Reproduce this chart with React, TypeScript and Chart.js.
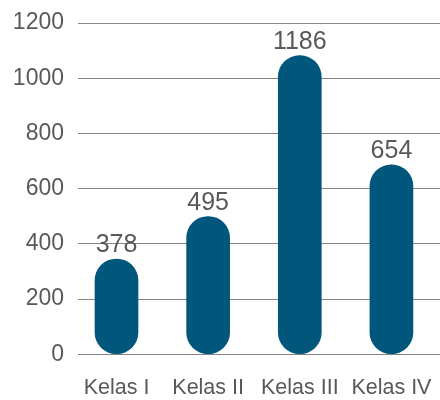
import React, { useEffect, useRef } from "react";
import { Chart, registerables } from "chart.js";

Chart.register(...registerables);

const categories = ["Kelas I", "Kelas II", "Kelas III", "Kelas IV"];
// bar heights as drawn in the picture
const values = [345, 499, 1082, 686];
// value labels printed above the bars
const valueLabels = ["378", "495", "1186", "654"];
const yTicks = [0, 200, 400, 600, 800, 1000, 1200];

const FONT = "'Liberation Sans', Arial, Helvetica, sans-serif";
const TEXT = "#595959";
const BAR = "#01577b";

const labelPlugin = {
  id: "valueLabels",
  afterDatasetsDraw(chart: any) {
    const ctx = chart.ctx;
    const meta = chart.getDatasetMeta(0);
    ctx.save();
    ctx.font = `25px ${FONT}`;
    ctx.fillStyle = TEXT;
    ctx.textAlign = "center";
    ctx.textBaseline = "alphabetic";
    meta.data.forEach((bar: any, i: number) => {
      ctx.fillText(valueLabels[i], bar.x, bar.y - 7);
    });
    ctx.restore();
  },
};

export default function App() {
  const ref = useRef<HTMLCanvasElement>(null);
  useEffect(() => {
    document.body.style.margin = "0";
    const chart = new Chart(ref.current!, {
      type: "bar",
      data: {
        datasets: [
          {
            data: categories.map((c, i) => ({ x: i, y: values[i] })),
            backgroundColor: BAR,
            barThickness: 43,
            borderRadius: 22,
            borderSkipped: false,
          },
        ],
      },
      options: {
        animation: false,
        responsive: false,
        devicePixelRatio: 1,
        layout: { padding: { top: 23, right: 0, left: 0, bottom: 0 } },
        plugins: { legend: { display: false }, tooltip: { enabled: false } },
        scales: {
          x: {
            type: "linear",
            min: -0.42,
            max: 3.53,
            offset: false,
            grid: { display: false, drawTicks: false },
            border: { display: false },
            afterFit: (s: any) => {
              s.height = 45.7;
              s.paddingLeft = 0;
              s.paddingRight = 0;
            },
            ticks: {
              stepSize: 1,
              includeBounds: false,
              autoSkip: false,
              maxRotation: 0,
              padding: 21,
              color: TEXT,
              font: { family: FONT, size: 21.5 },
              callback: (v: any) => categories[v as number] ?? "",
            },
          },
          y: {
            min: 0,
            max: 1200,
            afterFit: (s: any) => {
              s.width = 78;
              s.paddingTop = 0;
              s.paddingBottom = 0;
            },
            afterBuildTicks: (s: any) => {
              s.ticks = yTicks.map((v) => ({ value: v }));
            },
            grid: { color: "#858585", lineWidth: 1, drawTicks: false },
            border: { display: false },
            ticks: {
              padding: 14,
              color: TEXT,
              font: { family: FONT, size: 23 },
              callback: (v: any) => String(v),
            },
          },
        },
      },
      plugins: [labelPlugin],
    } as any);
    return () => chart.destroy();
  }, []);
  return <canvas ref={ref} width={440} height={400} style={{ display: "block" }} />;
}
